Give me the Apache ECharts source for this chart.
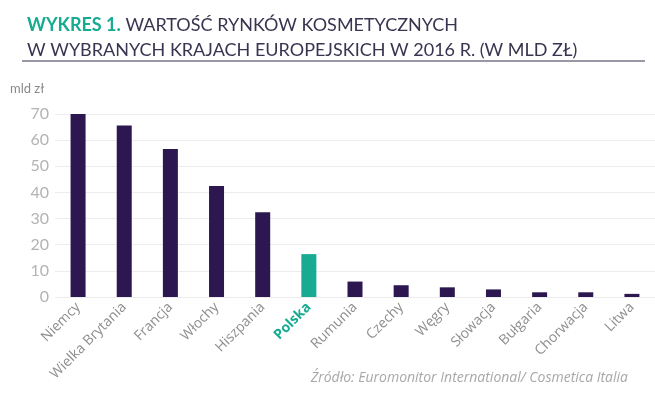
<!DOCTYPE html>
<html>
<head>
<meta charset="utf-8">
<script src="https://cdn.jsdelivr.net/npm/echarts@6/dist/echarts.min.js"></script>
<style>
html, body { margin: 0; padding: 0; background: #fff; }
#wykres { width: 655px; height: 398px; }
</style>
</head>
<body>
<div id="wykres"></div>
<script>
// dane (mld zł, 2016)
var kraje = ['Niemcy', 'Wielka Brytania', 'Francja', 'Włochy', 'Hiszpania', 'Polska', 'Rumunia', 'Czechy', 'Węgry', 'Słowacja', 'Bułgaria', 'Chorwacja', 'Litwa'];
var wartosci = [70.4, 65.6, 56.6, 42.5, 32.4, 16.4, 5.9, 4.5, 3.7, 2.9, 1.8, 1.8, 1.2];
var wyroznione = 'Polska';

var fiolet = '#2c1751';
var turkus = '#17ab91';

var myChart = echarts.init(document.getElementById('wykres'));

var dane = [];
for (var i = 0; i < wartosci.length; i++) {
	dane.push({
		value: wartosci[i],
		itemStyle: { color: kraje[i] === wyroznione ? turkus : fiolet }
	});
}

option = {
	animation: false,
	title: {
		left: 22,
		top: 8,
		text: '{b|WYKRES 1.} WARTOŚĆ RYNKÓW KOSMETYCZNYCH\nW WYBRANYCH KRAJACH EUROPEJSKICH W 2016 R. (W MLD ZŁ)',
		textStyle: {
			fontFamily: 'Lato',
			fontSize: 18,
			fontWeight: 'normal',
			color: '#3a3450',
			lineHeight: 25,
			rich: {
				b: { fontFamily: 'Lato', fontSize: 18, fontWeight: 'bold', color: turkus }
			}
		}
	},
	graphic: [{
		type: 'rect',
		shape: { x: 22, y: 60, width: 623, height: 2 },
		style: { fill: '#9a98a6' }
	}, {
		type: 'text',
		left: 10,
		top: 82,
		style: { text: 'mld zł', fontFamily: 'Lato', fontSize: 13, fill: '#8a8a8a' }
	}, {
		type: 'text',
		right: 27,
		top: 371,
		style: {
			text: 'Źródło: Euromonitor International/ Cosmetica Italia',
			fontFamily: 'Open Sans',
			fontStyle: 'italic',
			fontSize: 14,
			fill: '#a8a8a8'
		}
	}],
	grid: {
		left: 55,
		width: 607,
		top: 114,
		height: 183
	},
	xAxis: [{
		type: 'category',
		data: kraje,
		axisLine: { show: false },
		axisTick: { show: false },
		axisLabel: {
			interval: 0,
			rotate: 45,
			margin: 8,
			fontFamily: 'Open Sans',
			fontSize: 14,
			color: '#8e8e8e',
			formatter: function (v) {
				return v === wyroznione ? '{p|' + v + '}' : v;
			},
			rich: {
				p: { fontFamily: 'Open Sans', fontSize: 14, fontWeight: 'bold', color: turkus }
			}
		}
	}],
	yAxis: [{
		type: 'value',
		min: 0,
		max: 70,
		interval: 10,
		axisLine: { show: false },
		axisTick: { show: false },
		axisLabel: {
			margin: 6,
			fontFamily: 'Lato',
			fontSize: 16,
			color: '#b3b3b3'
		},
		splitLine: {
			lineStyle: { color: '#ececec', width: 1 }
		}
	}],
	series: [{
		name: 'mld zł',
		type: 'bar',
		barWidth: 15,
		data: dane
	}]
};

myChart.setOption(option);
</script>
</body>
</html>
